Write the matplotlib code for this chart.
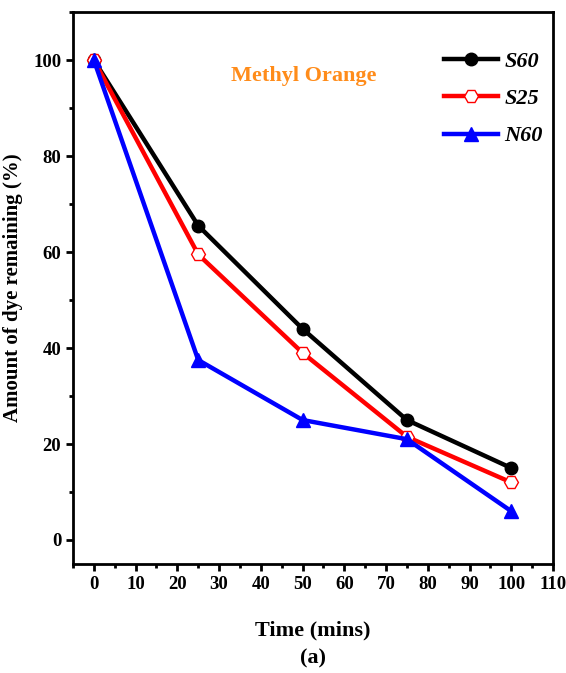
import matplotlib.pyplot as plt
from matplotlib.ticker import MultipleLocator

time_mins = [0, 25, 50, 75, 100]
s60 = [100, 65.5, 44, 25, 15]
s25 = [100, 59.5, 39, 21.5, 12]
n60 = [100, 37.5, 25, 21, 6]

plt.rcParams['font.family'] = 'Liberation Serif'
plt.rcParams['font.weight'] = 'bold'

fig = plt.figure(figsize=(5.66, 6.73), dpi=100)
ax = fig.add_axes([0.129, 0.162, 0.848, 0.82])

ax.plot(time_mins, s60, color='black', lw=3.2, marker='o', ms=9, label='S60')
ax.plot(time_mins, s25, color='red', lw=3.2, marker='H', ms=10,
        markerfacecolor='white', markeredgecolor='red', markeredgewidth=1, label='S25')
ax.plot(time_mins, n60, color='blue', lw=3.2, marker='^', ms=10, label='N60')

ax.set_xlim(-5, 110)
ax.set_ylim(-5, 110)
ax.xaxis.set_major_locator(MultipleLocator(10))
ax.xaxis.set_minor_locator(MultipleLocator(5))
ax.set_yticks([0, 20, 40, 60, 80, 100])
ax.yaxis.set_minor_locator(MultipleLocator(10))
ax.tick_params(which='both', direction='out', width=2, labelsize=13.5, top=False, right=False)
ax.tick_params(which='major', length=5)
ax.tick_params(which='minor', length=3)
for s in ax.spines.values():
    s.set_linewidth(2)

ax.set_xlabel('Time (mins)\n(a)', fontsize=16, fontweight='bold', labelpad=20, linespacing=1.5)
ax.set_ylabel('Amount of dye remaining (%)', fontsize=15, fontweight='bold', labelpad=7)

ax.text(50.3, 96.7, 'Methyl Orange', color='#FF8C1A', fontsize=16, fontweight='bold',
        ha='center', va='center')

ax.legend(loc='upper right', bbox_to_anchor=(1.02, 0.965), frameon=False, handlelength=2.4,
          labelspacing=0.75, handletextpad=0.3,
          prop={'style': 'italic', 'weight': 'bold', 'size': 16})

fig.savefig('out.png', dpi=100)
